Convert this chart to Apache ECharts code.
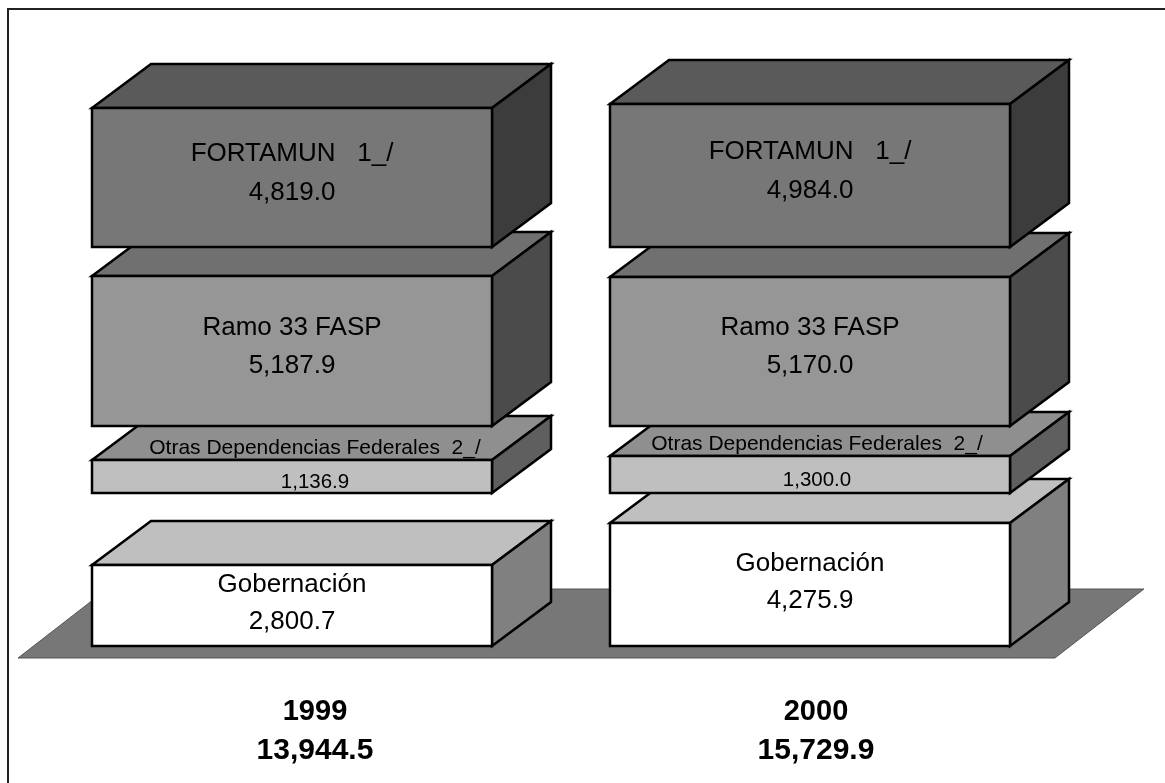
<!doctype html>
<html lang="es">
<head>
    <meta charset="UTF-8">
    <title>Gobernación 1999-2000</title>
    <style>
        html,body{margin:0;padding:0;background:#fff;}
        #main{width:1165px;height:783px;}
    </style>
    <script src="https://cdn.jsdelivr.net/npm/echarts@6/dist/echarts.min.js"></script>
</head>
<body>
<div id="main"></div>
<script>
    var years = ['1999', '2000'];
    var totals = ['13,944.5', '15,729.9'];

    var gobernacion = [2800.7, 4275.9];
    var otras = [1136.9, 1300.0];
    var ramo33 = [5187.9, 5170.0];
    var fortamun = [4819.0, 4984.0];

    // empty space left between the blocks in axis units
    var gapOtras = [2500, 1030];
    var gapRamo = [1213, 1040];
    var gapFortamun = [1006, 1020];

    var depthX = 59, depthY = 44;
    var font = '"Liberation Sans", Arial, sans-serif';

    function fmt(v) {
        return v.toFixed(1).replace(/\B(?=(\d{3})+\.)/g, ',');
    }

    function addUp(values, lists) {
        return values.map(function (v, i) {
            var base = 0;
            lists.forEach(function (l) { base += l[i]; });
            return [i, base, base + v];
        });
    }

    function poly(points, fill) {
        return {
            type: 'polygon',
            shape: {points: points},
            style: {fill: fill, stroke: '#000', lineWidth: 2.5, lineJoin: 'miter'}
        };
    }

    function text(x, y, str, size, bold) {
        return {
            type: 'text',
            silent: true,
            style: {
                x: x, y: y, text: str, fill: '#000',
                font: (bold ? 'bold ' : '') + size + 'px ' + font,
                align: 'center', verticalAlign: 'middle'
            }
        };
    }

    function block(name, colors, compact, nameDy, valueDy) {
        return function (params, api) {
            var i = api.value(0);
            var low = api.coord([i, api.value(1)]);
            var high = api.coord([i, api.value(2)]);
            var w = api.size([1, 0])[0] * 0.772;
            var l = Math.round(low[0] - w / 2), r = l + Math.round(w);
            var t = Math.round(high[1]), b = Math.round(low[1]);
            var children = [
                poly([[l, t], [l + depthX, t - depthY], [r + depthX, t - depthY], [r, t]], colors[0]),
                poly([[r, t], [r + depthX, t - depthY], [r + depthX, b - depthY], [r, b]], colors[1]),
                poly([[l, t], [r, t], [r, b], [l, b]], colors[2])
            ];
            var label = fmt(api.value(2) - api.value(1));
            var mid = (t + b) / 2;
            if (compact) {
                var shift = [23, 7][i];
                children.push(text(low[0] + shift, t - 12, name, 21));
                children.push(text(low[0] + shift, mid + 5.5, label, 20.5));
            } else {
                children.push(text(low[0], mid + nameDy, name, 26));
                children.push(text(low[0], mid + valueDy, label, 26));
            }
            return {type: 'group', children: children};
        };
    }

    function blockSeries(name, data, colors, compact, nameDy, valueDy) {
        return {
            name: name,
            type: 'custom',
            coordinateSystem: 'cartesian2d',
            encode: {x: 0, y: [1, 2]},
            clip: false,
            data: data,
            renderItem: block(name, colors, compact, nameDy, valueDy)
        };
    }

    var gobData = addUp(gobernacion, []);
    var otrasData = addUp(otras, [gobernacion, gapOtras]);
    var ramoData = addUp(ramo33, [gobernacion, gapOtras, otras, gapRamo]);
    var fortData = addUp(fortamun, [gobernacion, gapOtras, otras, gapRamo, ramo33, gapFortamun]);

    var myChart = echarts.init(document.getElementById('main'), null, {renderer: 'canvas'});
    var option = {
        animation: false,
        backgroundColor: '#fff',
        graphic: [{
            type: 'polyline',
            z: -1,
            shape: {points: [[8, 783], [8, 9], [1165, 9]]},
            style: {fill: 'none', stroke: '#222', lineWidth: 2}
        }],
        grid: {left: 33, width: 1036, top: 69.6, height: 576.4},
        xAxis: {type: 'category', data: years, show: false},
        yAxis: {type: 'value', min: 0, max: 20000, show: false},
        series: [
            {
                name: 'piso',
                type: 'custom',
                coordinateSystem: 'cartesian2d',
                clip: false,
                silent: true,
                data: [[0, 0]],
                renderItem: function (params, api) {
                    var a = api.coord([0, 0]);
                    var c = api.coord([1, 0]);
                    var w = api.size([1, 0])[0] * 0.772;
                    var l = a[0] - w / 2 - 74, r = c[0] + w / 2 + 45;
                    var b = a[1] + 12, t = a[1] - 57;
                    return {
                        type: 'polygon',
                        shape: {points: [[l, b], [l + 89, t], [r + 89, t], [r, b]]},
                        style: {fill: '#777777', stroke: '#555', lineWidth: 1}
                    };
                }
            },
            blockSeries('Gobernación', gobData, ['#bfbfbf', '#808080', '#ffffff'], false, -21, 16.5),
            blockSeries('Otras Dependencias Federales  2_/', otrasData, ['#8f8f8f', '#5f5f5f', '#bfbfbf'], true),
            blockSeries('Ramo 33 FASP', ramoData, ['#707070', '#4b4b4b', '#969696'], false, -23.5, 14.5),
            blockSeries('FORTAMUN   1_/', fortData, ['#5a5a5a', '#3c3c3c', '#777777'], false, -23.5, 15),
            {
                name: 'total',
                type: 'custom',
                coordinateSystem: 'cartesian2d',
                clip: false,
                silent: true,
                data: [[0, 0], [1, 0]],
                renderItem: function (params, api) {
                    var i = api.value(0);
                    var p = api.coord([i, 0]);
                    var shift = [23, 6][i];
                    return {
                        type: 'group',
                        children: [
                            text(p[0] + shift, p[1] + 66, years[i], 29, true),
                            text(p[0] + shift, p[1] + 105, totals[i], 30, true)
                        ]
                    };
                }
            }
        ]
    };
    myChart.setOption(option);
</script>
</body>
</html>
